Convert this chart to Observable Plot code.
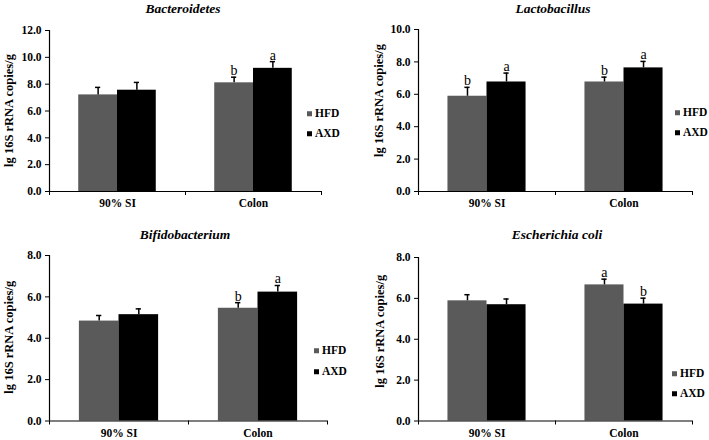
<!DOCTYPE html>
<html><head><meta charset="utf-8">
<script src="https://cdn.jsdelivr.net/npm/d3@7"></script>
<script src="https://cdn.jsdelivr.net/npm/@observablehq/plot@0.6"></script>
<style>
body{margin:0;background:#fff;}
#root{position:relative;width:709px;height:440px;overflow:hidden;font-family:"Liberation Serif","Times New Roman",serif;color:#000;}
.panel{position:absolute;}
.title{position:absolute;font-weight:bold;font-style:italic;font-size:13.5px;transform:translate(-50%,-50%);white-space:nowrap;}
.leg{position:absolute;font-weight:bold;font-size:11.5px;display:flex;align-items:center;transform:translateY(-50%);white-space:nowrap;line-height:1;}
.leg i{display:inline-block;width:5px;height:5px;margin-right:3px;}
</style></head>
<body><div id="root"></div>
<script>
const categories = ["90% SI", "Colon"];
const groups = ["HFD", "AXD"];
const groupColors = ["#5a5a5a", "#000000"];
const yLabel = "lg 16S rRNA copies/g";

// Bacteroidetes
const bactHFD = [7.2, 8.1];
const bactHFDErr = [0.56, 0.42];
const bactAXD = [7.55, 9.18];
const bactAXDErr = [0.58, 0.5];
const bactHFDLetters = ["", "b"];
const bactAXDLetters = ["", "a"];
const bactTicks = [0, 2, 4, 6, 8, 10, 12];

// Lactobacillus
const lactHFD = [5.88, 6.76];
const lactHFDErr = [0.55, 0.3];
const lactAXD = [6.76, 7.63];
const lactAXDErr = [0.55, 0.4];
const lactHFDLetters = ["b", "b"];
const lactAXDLetters = ["a", "a"];
const lactTicks = [0, 2, 4, 6, 8, 10];

// Bifidobacterium
const bifHFD = [4.83, 5.45];
const bifHFDErr = [0.27, 0.27];
const bifAXD = [5.14, 6.23];
const bifAXDErr = [0.28, 0.32];
const bifHFDLetters = ["", "b"];
const bifAXDLetters = ["", "a"];
const bifTicks = [0, 2, 4, 6, 8];

// Escherichia coli
const ecoHFD = [5.88, 6.66];
const ecoHFDErr = [0.3, 0.28];
const ecoAXD = [5.69, 5.72];
const ecoAXDErr = [0.28, 0.29];
const ecoHFDLetters = ["", "a"];
const ecoAXDLetters = ["", "b"];
const ecoTicks = [0, 2, 4, 6, 8];

const panels = [
  {title: "Bacteroidetes", hfd: bactHFD, hfdErr: bactHFDErr, axd: bactAXD, axdErr: bactAXDErr,
   hfdL: bactHFDLetters, axdL: bactAXDLetters, ticks: bactTicks,
   left: 0, top: 0, w: 355, h: 220, mL: 49, mT: 30, mB: 29, mR: 34, xPad: 7,
   titleX: 183, titleY: 9, legX: 307, legY: [114, 134], labDx: -41, labDy: -0.5},
  {title: "Lactobacillus", hfd: lactHFD, hfdErr: lactHFDErr, axd: lactAXD, axdErr: lactAXDErr,
   hfdL: lactHFDLetters, axdL: lactAXDLetters, ticks: lactTicks,
   left: 355, top: 0, w: 354, h: 220, mL: 63, mT: 29, mB: 29, mR: 17, xPad: 7,
   titleX: 553, titleY: 9, legX: 675, legY: [112.5, 132.5], labDx: -40, labDy: -10},
  {title: "Bifidobacterium", hfd: bifHFD, hfdErr: bifHFDErr, axd: bifAXD, axdErr: bifAXDErr,
   hfdL: bifHFDLetters, axdL: bifAXDLetters, ticks: bifTicks,
   left: 0, top: 220, w: 355, h: 220, mL: 49, mT: 35, mB: 19.5, mR: 28, xPad: 8,
   titleX: 185, titleY: 235, legX: 314, legY: [351, 372], labDx: -41, labDy: -1},
  {title: "Escherichia coli", hfd: ecoHFD, hfdErr: ecoHFDErr, axd: ecoAXD, axdErr: ecoAXDErr,
   hfdL: ecoHFDLetters, axdL: ecoAXDLetters, ticks: ecoTicks,
   left: 355, top: 220, w: 354, h: 220, mL: 63, mT: 37, mB: 19.5, mR: 17, xPad: 8,
   titleX: 557, titleY: 235, legX: 672, legY: [374, 394], labDx: -39, labDy: -8}
];

const barW = 0.285;
const capHalf = 0.019;
const root = document.getElementById("root");

for (const p of panels) {
  const rows = [];
  categories.forEach((c, i) => {
    groups.forEach((g, j) => {
      const vals = j === 0 ? p.hfd : p.axd;
      const errs = j === 0 ? p.hfdErr : p.axdErr;
      const lets = j === 0 ? p.hfdL : p.axdL;
      const x1 = j === 0 ? i + 0.5 - barW : i + 0.5;
      rows.push({cat: c, group: g, x1, x2: x1 + barW, mid: x1 + barW / 2,
                 value: vals[i], top: vals[i] + errs[i], letter: lets[i]});
    });
  });
  const ymax = p.ticks[p.ticks.length - 1];
  const chart = Plot.plot({
    width: p.w, height: p.h,
    marginLeft: p.mL, marginTop: p.mT, marginBottom: p.mB, marginRight: p.mR,
    style: {fontFamily: '"Liberation Serif", serif', fontSize: "11.5px", fontWeight: "bold", color: "#000", background: "transparent", overflow: "visible"},
    x: {domain: [0, categories.length], axis: null},
    y: {domain: [0, ymax], axis: null},
    color: {domain: groups, range: groupColors},
    marks: [
      Plot.rectY(rows, {x1: "x1", x2: "x2", y1: 0, y2: "value", fill: "group"}),
      Plot.ruleX(rows, {x: "mid", y1: "value", y2: "top", stroke: "#000", strokeWidth: 1.5}),
      Plot.ruleY(rows, {y: "top", x1: d => d.mid - capHalf, x2: d => d.mid + capHalf, stroke: "#000", strokeWidth: 1.5}),
      Plot.text(rows.filter(d => d.letter), {x: "mid", y: "top", text: "letter", lineAnchor: "bottom", dy: -2, fontSize: 14, fontWeight: "normal"}),
      Plot.axisY({ticks: p.ticks, tickFormat: d => d.toFixed(1), tickSize: 4, tickPadding: 4, label: null}),
      Plot.axisX({ticks: categories.map((c, i) => i + 0.5), tickFormat: d => categories[Math.floor(d)], tickSize: 0, tickPadding: p.xPad, label: null}),
      Plot.axisX({ticks: d3.range(categories.length + 1), tickFormat: () => "", tickSize: 4, label: null}),
      Plot.ruleX([0], {stroke: "#000", strokeWidth: 1.2}),
      Plot.ruleY([0], {stroke: "#000", strokeWidth: 1.2}),
      Plot.text([yLabel], {frameAnchor: "left", textAnchor: "middle", lineAnchor: "middle", rotate: -90, dx: p.labDx, dy: p.labDy, fontSize: 12.5, fontWeight: "bold"})
    ]
  });
  chart.classList.add("panel");
  chart.style.left = p.left + "px";
  chart.style.top = p.top + "px";
  root.appendChild(chart);

  const t = document.createElement("div");
  t.className = "title";
  t.textContent = p.title;
  t.style.left = p.titleX + "px";
  t.style.top = p.titleY + "px";
  root.appendChild(t);

  groups.forEach((g, j) => {
    const l = document.createElement("div");
    l.className = "leg";
    l.style.left = p.legX + "px";
    l.style.top = p.legY[j] + "px";
    const sw = document.createElement("i");
    sw.style.background = groupColors[j];
    l.appendChild(sw);
    l.appendChild(document.createTextNode(g));
    root.appendChild(l);
  });
}
</script>
</body></html>
